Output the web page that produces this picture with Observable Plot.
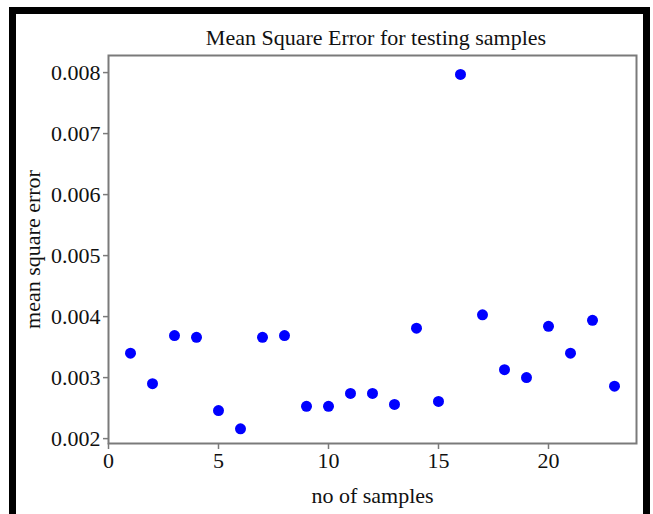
<!DOCTYPE html>
<html>
<head>
<meta charset="utf-8">
<script src="https://cdn.jsdelivr.net/npm/d3@7"></script>
<script src="https://cdn.jsdelivr.net/npm/@observablehq/plot@0.6"></script>
<style>
  html, body { margin: 0; padding: 0; background: #fff; }
  #wrap { position: relative; width: 653px; height: 514px; overflow: hidden; background: #fff; }
  #border { position: absolute; left: 9px; top: 7px; width: 641px; height: 530px; border: 7px solid #000; border-bottom: none; box-sizing: border-box; pointer-events: none; }
  #title { position: absolute; left: 108px; width: 536px; top: 27px; text-align: center; font-family: "Liberation Serif", serif; font-size: 22px; line-height: 22px; color: #111; }
  #chart { position: absolute; left: 0; top: 0; }
  #chart svg text { font-family: "Liberation Serif", serif; font-variant-numeric: normal; }
</style>
</head>
<body>
<div id="wrap">
  <div id="chart"></div>
  <div id="title"></div>
  <div id="border"></div>
</div>
<script>
const title = "Mean Square Error for testing samples";
const xLabel = "no of samples";
const yLabel = "mean square error";
const samples = [1, 2, 3, 4, 5, 6, 7, 8, 9, 10, 11, 12, 13, 14, 15, 16, 17, 18, 19, 20, 21, 22, 23];
const mse = [0.00340, 0.00290, 0.00369, 0.00366, 0.00246, 0.00216, 0.00366, 0.00369, 0.00253, 0.00253,
             0.00274, 0.00274, 0.00256, 0.00381, 0.00261, 0.00797, 0.00403, 0.00313, 0.00300, 0.00384,
             0.00340, 0.00394, 0.00286];
const xTicks = [0, 5, 10, 15, 20];
const yTicks = [0.002, 0.003, 0.004, 0.005, 0.006, 0.007, 0.008];

const data = samples.map((s, i) => ({sample: s, mse: mse[i]}));
document.getElementById("title").textContent = title;

const chart = Plot.plot({
  width: 653,
  height: 514,
  marginLeft: 108,
  marginRight: 17,
  marginTop: 55,
  marginBottom: 71,
  style: { fontFamily: "Liberation Serif", fontSize: "22px", color: "#111", background: "transparent" },
  x: { domain: [0, 24] },
  y: { domain: [0.00192, 0.00828] },
  marks: [
    Plot.frame({ stroke: "#7a7a7a", strokeWidth: 2 }),
    Plot.axisX({ ticks: xTicks, tickSize: 6, tickPadding: 3, stroke: "#7a7a7a", strokeWidth: 1.5, fontVariant: "normal", fontFamily: "Liberation Serif",
      tickFormat: d => String(d), label: xLabel, labelAnchor: "center", labelArrow: "none", labelOffset: 59 }),
    Plot.axisY({ ticks: yTicks, tickSize: 5, tickPadding: 3, stroke: "#7a7a7a", strokeWidth: 1.5, fontVariant: "normal", fontFamily: "Liberation Serif",
      tickFormat: d => d.toFixed(3), label: yLabel, labelAnchor: "center", labelArrow: "none", labelOffset: 84 }),
    Plot.dot(data, { x: "sample", y: "mse", r: 5.5, fill: "#0000ff", stroke: "none" })
  ]
});
document.getElementById("chart").appendChild(chart);
</script>
</body>
</html>
